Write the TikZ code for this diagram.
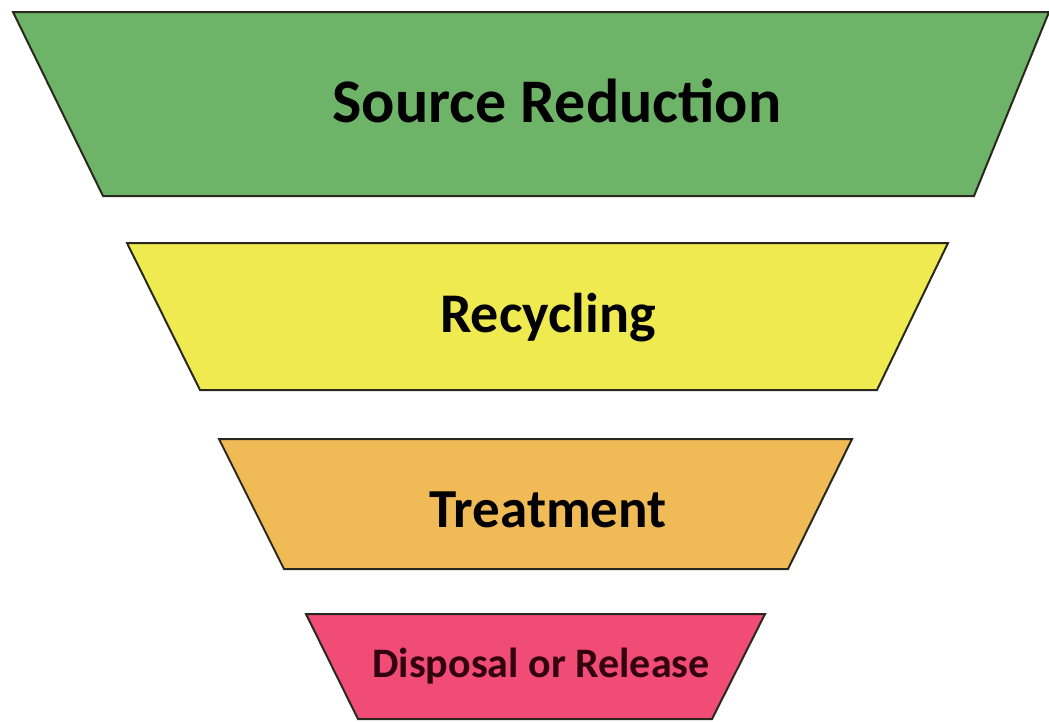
\documentclass[tikz,border=0pt]{standalone}
\usepackage{fontspec}
\setmainfont{Carlito}
\definecolor{srcgreen}{RGB}{110,180,104}
\definecolor{recyellow}{RGB}{239,234,80}
\definecolor{treatorange}{RGB}{240,186,86}
\definecolor{disppink}{RGB}{240,76,118}
\definecolor{edgegray}{RGB}{40,40,30}

\begin{document}
\begin{tikzpicture}[x=1pt, y=-1pt,
      level/.style = {draw=edgegray, line width=2pt, line join=miter},
      every node/.style = {font=\bfseries, inner sep=0pt}]
  \useasboundingbox (0,0) rectangle (1049,721);
  % funnel bands, top to bottom
  \filldraw[level, fill=srcgreen] (13,12) -- (1049,12) -- (974,196) -- (103,196) -- cycle;
  \filldraw[level, fill=recyellow] (127,243) -- (948,243) -- (877,390) -- (200,390) -- cycle;
  \filldraw[level, fill=treatorange] (219,439) -- (852,439) -- (788,569) -- (284,569) -- cycle;
  \filldraw[level, fill=disppink] (306,614) -- (765,614) -- (712,719) -- (358,719) -- cycle;
  % labels
  \node[font=\fontsize{62}{62}\selectfont\bfseries] (source) at (557,101) {Source Reduction};
  \node[font=\fontsize{56}{56}\selectfont\bfseries] (recycling) at (548,318) {Recycling};
  \node[font=\fontsize{55}{55}\selectfont\bfseries] (treatment) at (548,510) {Treatment};
  \node[font=\fontsize{42}{42}\selectfont\bfseries, text={rgb,255:red,50;green,0;blue,15}] (disposal) at (541,666) {Disposal or Release};
\end{tikzpicture}
\end{document}
